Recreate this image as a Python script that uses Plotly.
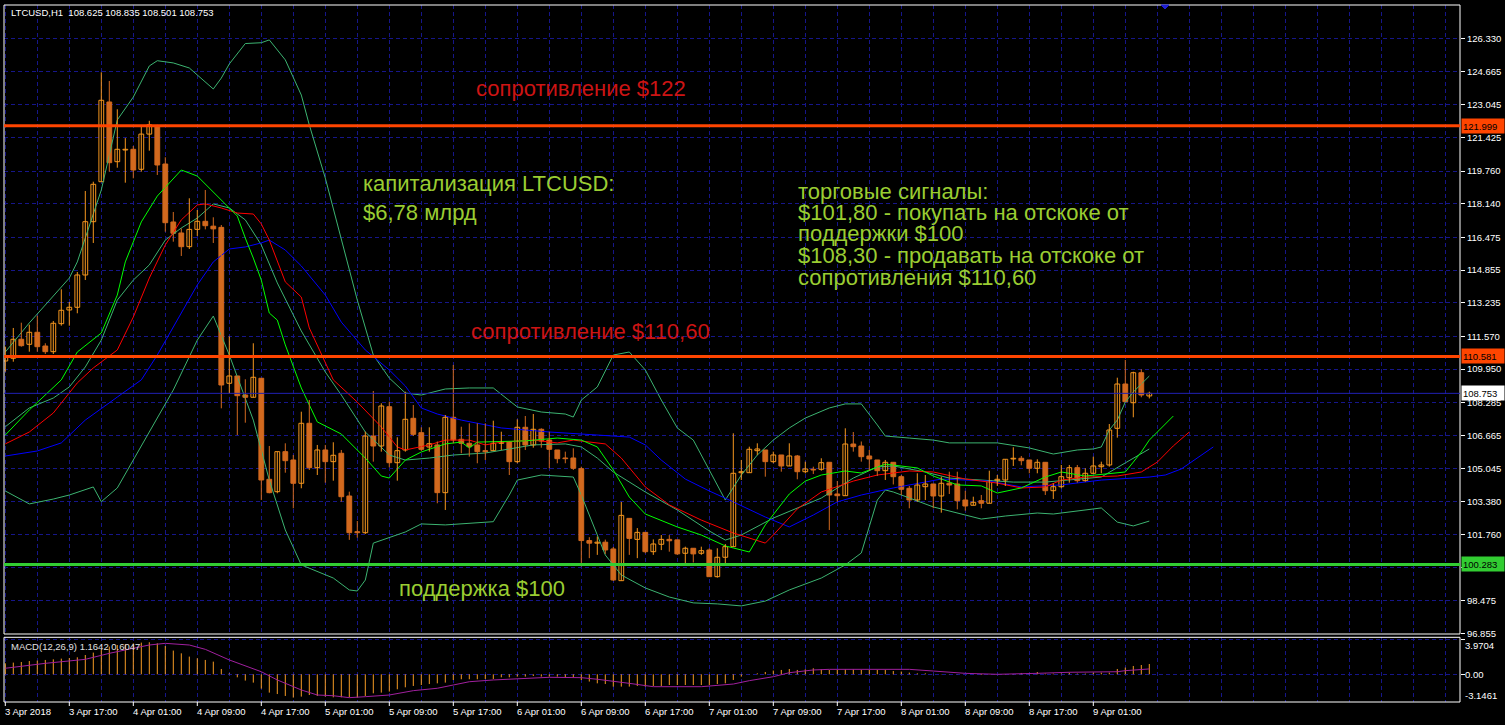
import plotly.graph_objects as go

# ---------------- data: LTCUSD H1, 3 Apr 09:00 .. 9 Apr 08:00 ----------------
OPEN = [110.355, 110.489, 111.430, 111.182, 111.776, 111.097, 110.816, 112.202, 112.880, 113.014,
        114.613, 117.251, 119.231, 123.177, 120.221, 120.800, 120.835, 119.845, 121.587, 121.964,
        120.107, 117.236, 116.692, 116.014, 116.870, 117.270, 117.030, 116.970, 109.252, 109.613,
        108.673, 108.559, 109.500, 104.499, 103.886, 105.866, 105.455, 104.301, 107.271, 105.073,
        105.950, 105.371, 105.787, 103.672, 101.905, 101.855, 106.641, 106.147, 108.092, 105.320,
        105.950, 107.518, 106.805, 106.097, 106.198, 103.837, 107.568, 106.479, 106.280, 106.198,
        105.915, 105.915, 106.280, 106.370, 105.371, 107.073, 106.198, 106.974, 106.444, 105.950,
        105.554, 105.554, 105.024, 101.465, 101.336, 101.385, 101.050, 99.480, 102.564, 101.524,
        101.871, 100.915, 101.281, 101.524, 101.500, 100.836, 101.084, 100.836, 100.999, 99.678,
        100.638, 101.163, 104.825, 104.825, 105.915, 105.950, 105.371, 105.702, 105.158, 105.653,
        104.875, 104.994, 104.994, 105.340, 103.771, 103.687, 106.246, 106.147, 105.653, 105.455,
        104.925, 105.340, 104.627, 104.053, 103.474, 104.132, 104.266, 103.672, 104.301, 104.266,
        103.474, 103.212, 103.439, 103.311, 104.430, 104.464, 105.504, 105.539, 105.455, 105.044,
        105.340, 103.934, 104.132, 104.578, 105.073, 104.430, 104.796, 105.123, 105.207, 107.023,
        109.216, 108.290, 109.775, 108.625]
HIGH = [111.063, 111.989, 112.251, 112.153, 112.598, 111.232, 112.336, 113.905, 113.276, 114.762,
        118.771, 119.231, 124.647, 124.217, 122.816, 121.389, 120.998, 121.964, 122.246, 122.048,
        120.439, 117.731, 116.919, 118.410, 117.830, 118.820, 117.469, 117.087, 111.573, 109.613,
        109.450, 111.232, 109.500, 106.147, 105.866, 106.280, 105.702, 107.845, 108.424, 106.198,
        106.198, 106.331, 105.950, 103.886, 102.434, 106.854, 108.870, 108.260, 108.340, 106.577,
        108.836, 108.177, 107.073, 107.073, 106.370, 107.682, 110.158, 107.102, 107.271, 107.271,
        107.271, 107.400, 106.854, 106.370, 107.469, 107.632, 107.731, 107.023, 106.854, 105.950,
        105.866, 106.033, 105.123, 101.633, 101.663, 101.514, 101.148, 103.375, 102.564, 102.084,
        101.871, 101.524, 101.737, 101.737, 101.500, 101.163, 101.084, 101.163, 101.084, 101.084,
        101.296, 106.776, 105.455, 106.113, 106.280, 105.950, 105.866, 105.702, 106.280, 105.702,
        105.371, 105.123, 105.539, 105.340, 104.415, 107.023, 106.840, 106.370, 105.950, 105.455,
        105.455, 105.340, 104.711, 104.167, 104.796, 104.711, 104.266, 104.627, 104.875, 104.875,
        103.930, 103.637, 103.722, 104.925, 104.711, 105.489, 106.083, 105.653, 105.455, 105.489,
        105.340, 104.301, 105.207, 105.207, 105.207, 105.044, 105.618, 105.371, 107.236, 109.528,
        110.405, 109.825, 109.945, 108.835]
LOW = [109.826, 110.320, 111.063, 110.816, 110.816, 110.702, 110.702, 112.103, 112.103, 112.717,
       114.365, 116.197, 119.231, 119.726, 119.924, 119.182, 119.399, 119.726, 120.766, 119.563,
       116.755, 116.261, 115.553, 115.900, 116.543, 116.870, 116.197, 108.013, 108.757, 106.691,
       107.300, 108.559, 103.474, 103.807, 103.807, 104.825, 103.063, 104.054, 104.960, 104.711,
       104.330, 104.430, 103.390, 101.500, 101.608, 101.790, 105.371, 105.866, 105.093, 104.430,
       105.866, 106.641, 105.900, 105.866, 103.311, 102.979, 106.280, 105.787, 105.619, 105.292,
       105.455, 105.915, 105.950, 104.711, 105.292, 105.950, 106.063, 106.063, 105.044, 105.292,
       105.292, 104.960, 100.183, 100.594, 100.757, 100.806, 99.465, 99.480, 100.757, 100.594,
       100.836, 100.757, 100.994, 100.915, 100.757, 100.212, 100.380, 100.757, 99.678, 99.628,
       100.262, 101.163, 104.464, 104.825, 105.702, 104.627, 105.292, 104.875, 105.158, 104.499,
       104.796, 104.761, 104.925, 101.989, 103.390, 103.687, 105.866, 105.371, 104.925, 104.662,
       104.464, 104.242, 103.722, 103.063, 103.390, 103.474, 103.063, 102.845, 103.771, 103.013,
       102.944, 103.212, 103.063, 103.311, 104.167, 104.167, 105.158, 105.193, 104.796, 104.796,
       103.722, 103.524, 104.053, 104.330, 104.330, 104.380, 104.761, 104.796, 105.123, 106.559,
       108.340, 107.568, 108.559, 108.501]
CLOSE = [110.603, 111.430, 111.113, 111.776, 111.063, 110.816, 112.222, 112.865, 113.014, 114.613,
         117.251, 119.102, 123.261, 120.171, 120.835, 120.835, 119.810, 121.587, 122.048, 120.058,
         117.201, 116.677, 116.014, 116.870, 117.270, 117.053, 116.896, 109.167, 109.613, 108.638,
         108.559, 109.549, 104.464, 103.837, 105.866, 105.420, 104.301, 107.271, 105.073, 105.950,
         105.371, 105.688, 103.637, 101.855, 101.855, 106.641, 106.147, 108.127, 105.320, 105.915,
         107.469, 106.726, 105.984, 106.260, 103.837, 107.568, 106.444, 106.280, 106.113, 105.866,
         105.866, 106.280, 106.330, 105.371, 107.073, 106.198, 106.974, 106.395, 105.984, 105.519,
         105.519, 105.044, 101.465, 101.336, 101.385, 101.000, 99.515, 102.713, 101.574, 101.871,
         100.915, 101.296, 101.524, 101.455, 100.806, 101.084, 100.806, 100.965, 99.678, 100.638,
         101.163, 104.796, 104.875, 105.984, 105.999, 105.371, 105.702, 105.158, 105.653, 104.875,
         105.009, 104.959, 105.320, 103.722, 103.687, 106.246, 106.113, 105.619, 105.504, 104.925,
         105.340, 104.627, 104.004, 103.474, 104.216, 104.266, 103.672, 104.301, 104.216, 103.439,
         103.177, 103.360, 103.311, 104.430, 104.499, 105.489, 105.539, 105.420, 105.044, 105.340,
         103.934, 104.132, 104.627, 105.073, 104.430, 104.796, 105.158, 105.207, 106.939, 109.216,
         108.340, 109.775, 108.671, 108.753]

# Bollinger Bands (bar index, value)
BB_UP_X = [0, 3, 8, 9, 12, 14, 16, 18, 19, 21, 23, 26, 27, 28, 30, 32, 33, 35, 37, 38, 40, 42, 44, 46, 48,
           50, 52, 55, 58, 61, 64, 67, 70, 71, 72, 74, 76, 78, 80, 82, 84, 86, 88, 90, 92, 94, 96, 98,
           100, 103, 105, 107, 109, 110, 113, 116, 118, 124, 128, 130, 131, 134, 136, 137, 138, 139,
           140, 141, 143]
BB_UP = [110.80, 112.24, 114.46, 115.26, 118.82, 122.29, 123.42, 124.96, 125.22, 125.11, 124.86, 123.82,
         124.36, 125.06, 126.07, 126.11, 126.25, 125.26, 123.52, 122.04, 119.41, 116.34, 113.37, 110.65,
         109.51, 108.77, 108.67, 108.97, 109.02, 109.02, 108.08, 107.83, 107.73, 107.58, 108.42, 109.07,
         110.65, 110.80, 109.91, 108.42, 107.04, 106.44, 104.96, 103.47, 104.71, 105.70, 106.44, 107.04,
         107.53, 108.03, 108.23, 108.23, 107.19, 106.64, 106.54, 106.44, 106.30, 106.30, 106.05, 105.85,
         105.75, 105.95, 106.00, 106.10, 106.94, 107.43, 108.32, 108.82, 109.61]
BB_MID_X = [0, 3, 6, 8, 10, 12, 14, 16, 18, 20, 22, 24, 26, 28, 30, 32, 34, 37, 40, 42, 45, 48, 50, 53,
            56, 60, 66, 70, 72, 74, 76, 80, 84, 88, 90, 92, 96, 99, 102, 106, 109, 111, 115, 118, 126,
            130, 135, 137, 140, 143]
BB_MID = [107.10, 108.03, 108.52, 109.07, 110.06, 111.39, 113.37, 114.36, 115.11, 116.34, 116.94, 117.43,
          118.13, 117.93, 117.34, 116.10, 114.22, 111.84, 109.81, 108.67, 106.84, 105.70, 105.45, 105.55,
          105.70, 105.80, 106.20, 106.25, 106.10, 105.55, 104.86, 103.87, 102.98, 101.94, 101.49, 101.74,
          102.58, 103.08, 103.57, 104.56, 105.11, 105.16, 104.86, 104.56, 104.36, 104.36, 104.56, 104.61,
          105.31, 106.00]
BB_LO_X = [0, 3, 6, 8, 11, 12, 14, 17, 21, 24, 26, 28, 31, 33, 35, 37, 41, 43, 44, 45, 46, 50, 52, 55,
           61, 63, 64, 67, 71, 72, 73, 75, 77, 80, 83, 86, 89, 92, 95, 98, 102, 105, 107, 109, 110, 111,
           116, 120, 122, 125, 129, 131, 136, 137, 139, 141, 143]
BB_LO = [103.92, 103.28, 103.52, 103.72, 104.12, 103.39, 104.07, 106.15, 108.92, 111.39, 112.58, 110.65,
         107.43, 104.46, 101.99, 100.26, 99.61, 99.02, 98.97, 99.51, 101.34, 101.89, 102.29, 102.24,
         102.40, 103.72, 104.46, 104.71, 104.61, 103.72, 102.73, 100.75, 99.76, 99.12, 98.67, 98.38,
         98.33, 98.23, 98.47, 99.02, 99.61, 100.26, 100.85, 103.47, 103.97, 103.87, 103.13, 102.73,
         102.53, 102.68, 102.83, 102.78, 103.03, 103.08, 102.38, 102.19, 102.43]

# Alligator: lips (lime), teeth (red), jaw (blue), plotted with their forward shift
LIPS_X = [0, 3, 7, 9, 12, 14, 15, 17, 19, 22, 24, 26, 28, 29, 30, 31, 32, 33, 34, 35, 37, 39, 42, 45, 47,
          48, 50, 52, 55, 57, 58, 59, 65, 69, 72, 74, 76, 78, 80, 84, 87, 90, 93, 95, 98, 100, 102, 105,
          107, 110, 114, 116, 119, 122, 124, 127, 130, 132, 135, 139, 140, 141, 142, 143, 144, 145, 146]
LIPS = [106.69, 107.93, 109.42, 110.80, 111.74, 113.62, 115.26, 117.24, 118.52, 119.81, 119.51, 118.72,
        117.93, 117.53, 116.44, 115.45, 114.36, 112.73, 112.38, 111.15, 109.02, 107.34, 106.74, 105.55,
        104.66, 104.56, 105.45, 105.85, 106.25, 106.34, 106.05, 106.34, 106.40, 106.54, 106.44, 106.10,
        104.96, 103.62, 102.78, 102.14, 101.74, 101.20, 100.90, 102.24, 103.77, 104.41, 104.71, 104.91,
        104.81, 105.25, 105.06, 104.66, 104.22, 104.17, 103.82, 104.07, 104.61, 104.86, 104.66, 104.81,
        104.86, 105.35, 105.85, 106.44, 106.84, 107.23, 107.63]
TEETH_X = [0, 3, 6, 9, 11, 14, 16, 18, 20, 22, 24, 25, 27, 29, 31, 32, 33, 35, 37, 38, 41, 44, 47, 49, 50,
           53, 55, 58, 60, 62, 66, 69, 71, 75, 77, 80, 83, 87, 91, 95, 96, 99, 102, 106, 109, 113, 116,
           120, 124, 127, 130, 132, 135, 139, 142, 144, 146, 148]
TEETH = [106.25, 106.84, 107.78, 109.27, 110.01, 110.90, 112.53, 114.46, 116.10, 117.34, 118.08, 118.13,
         117.93, 117.68, 117.63, 117.14, 116.34, 114.27, 113.52, 111.99, 109.42, 108.32, 107.09, 106.10,
         105.95, 106.20, 106.44, 106.44, 106.20, 106.34, 106.44, 106.30, 106.44, 106.25, 105.55, 104.12,
         103.23, 102.48, 101.84, 101.34, 101.74, 103.03, 103.87, 104.41, 104.71, 104.91, 104.86, 104.51,
         104.31, 104.07, 104.12, 104.46, 104.61, 104.66, 104.86, 105.35, 106.15, 106.84]
JAW_X = [0, 4, 7, 10, 14, 17, 19, 22, 24, 26, 28, 30, 32, 33, 35, 37, 40, 42, 45, 48, 50, 52, 54, 57, 62,
         68, 74, 78, 80, 82, 85, 88, 91, 95, 98, 101, 104, 107, 111, 117, 123, 127, 132, 137, 143, 145,
         147, 149, 151]
JAW = [105.65, 105.90, 106.30, 107.43, 108.57, 109.42, 110.65, 112.73, 114.12, 115.26, 115.90, 116.00,
       116.20, 116.34, 115.85, 115.06, 113.62, 112.28, 110.90, 109.91, 109.12, 108.03, 107.73, 107.43,
       107.04, 106.84, 106.69, 106.59, 106.20, 105.45, 104.51, 103.92, 103.38, 102.63, 102.14, 102.73,
       103.38, 103.72, 104.07, 104.51, 104.41, 104.12, 104.22, 104.46, 104.61, 104.71, 105.01, 105.55,
       106.10]

# MACD(12,26,9): histogram per bar, signal line
MACD_HIST = [1.24, 1.32, 1.39, 1.50, 1.55, 1.62, 1.69, 1.77, 1.84, 1.92,
             2.18, 2.45, 2.82, 3.13, 3.31, 3.42, 3.50, 3.58, 3.62, 3.50,
             3.20, 2.68, 2.37, 2.00, 1.81, 1.62, 1.43, 0.60, 0.11, -0.34,
             -0.71, -0.94, -1.62, -2.07, -2.23, -2.45, -2.63, -2.52, -2.34, -2.45,
             -2.52, -2.60, -2.60, -2.60, -2.63, -2.45, -2.15, -2.07, -1.95, -1.69,
             -1.47, -1.32, -1.21, -1.10, -1.02, -0.94, -0.64, -0.56, -0.56, -0.56,
             -0.53, -0.53, -0.34, -0.34, -0.26, -0.26, -0.19, -0.26, -0.26, -0.26,
             -0.34, -0.34, -0.64, -0.82, -1.02, -1.10, -1.39, -1.39, -1.39, -1.32,
             -1.39, -1.32, -1.32, -1.21, -1.21, -1.21, -1.21, -1.21, -1.21, -1.10,
             -1.02, -0.64, -0.26, 0.02, 0.11, 0.26, 0.42, 0.49, 0.60, 0.49,
             0.56, 0.68, 0.56, 0.49, 0.49, 0.56, 0.56, 0.49, 0.49, 0.49,
             0.49, 0.37, 0.31, 0.19, 0.11, 0.11, 0.03, 0.03, 0.02, 0.02,
             0.01, 0.01, -0.08, 0.01, 0.02, 0.03, 0.04, 0.15, 0.15, 0.26,
             0.08, 0.08, 0.08, 0.19, 0.08, 0.08, 0.19, 0.19, 0.19, 0.60,
             0.76, 0.94, 1.05, 1.1642]
SIG_X = [0, 5, 10, 13, 16, 18, 20, 23, 25, 28, 32, 34, 37, 39, 41, 43, 45, 48, 51, 54, 56, 58, 61, 66, 68,
         72, 74, 78, 81, 87, 91, 93, 96, 98, 101, 103, 113, 116, 120, 124, 126, 129, 133, 139, 140, 142, 143]
SIG = [0.68, 1.24, 1.69, 2.37, 2.94, 3.31, 3.50, 3.31, 2.82, 1.62, 0.29, -0.64, -1.77, -2.34, -2.42, -2.64,
       -2.53, -2.34, -1.85, -1.58, -1.21, -0.84, -0.64, -0.45, -0.34, -0.38, -0.56, -1.02, -1.40, -1.40,
       -1.10, -0.72, -0.27, 0.18, 0.49, 0.56, 0.56, 0.37, 0.11, 0.0, 0.07, 0.11, 0.23, 0.29, 0.41, 0.55,
       0.6047]

Y_TICKS = [126.330, 124.665, 123.045, 121.425, 119.760, 118.140, 116.475, 114.855, 113.235, 111.570,
           109.950, 108.285, 106.665, 105.045, 103.380, 101.760, 100.140, 98.475, 96.855]
TIME_POS = [0, 8, 16, 24, 32, 40, 48, 56, 64, 72, 80, 88, 96, 104, 112, 120, 128, 136]
TIME_LABELS = ["3 Apr 2018", "3 Apr 17:00", "4 Apr 01:00", "4 Apr 09:00", "4 Apr 17:00", "5 Apr 01:00",
               "5 Apr 09:00", "5 Apr 17:00", "6 Apr 01:00", "6 Apr 09:00", "6 Apr 17:00", "7 Apr 01:00",
               "7 Apr 09:00", "7 Apr 17:00", "8 Apr 01:00", "8 Apr 09:00", "8 Apr 17:00", "9 Apr 01:00"]

RESIST_HI = 121.999
RESIST_LO = 110.581
SUPPORT = 100.283
BID = 108.753

# ---------------- geometry / styles ----------------
W, H = 1505, 725
ML, MR, MT, MB = 4, 45, 5, 23
PW, PH = W - ML - MR, H - MT - MB


def px(x):
    return (x - ML) / PW


def py(y):
    return (H - MB - y) / PH


BULL = "#f5961e"
BEAR = "#d2691e"
GRID = "#16168a"
BB_C = "#3cb371"
FONT = "Liberation Sans"
AX_FONT = dict(family=FONT, size=9.5, color="white")

x0 = (ML - 5.3) / 8.0
XR = [x0, x0 + PW / 8.0]
Y_TOP = 127.978
Y_BOT = 96.84
MACD_TOP, MACD_BOT = 4.181, -3.13

fig = go.Figure()

n = len(CLOSE)
bull = [i for i in range(n) if CLOSE[i] >= OPEN[i]]
bear = [i for i in range(n) if CLOSE[i] < OPEN[i]]


def wicks(idx):
    xs, ys = [], []
    for i in idx:
        xs += [i, i, None]
        ys += [LOW[i], HIGH[i], None]
    return xs, ys


# indicator lines
for xs, ys, col in [(BB_UP_X, BB_UP, BB_C), (BB_MID_X, BB_MID, BB_C), (BB_LO_X, BB_LO, BB_C),
                    (JAW_X, JAW, "#0000ff"), (TEETH_X, TEETH, "#ff0000"), (LIPS_X, LIPS, "#00ff00")]:
    fig.add_trace(go.Scatter(x=xs, y=ys, mode="lines", line=dict(color=col, width=1),
                             hoverinfo="skip", showlegend=False, xaxis="x", yaxis="y"))

# candle wicks then bodies
for idx, col in [(bull, BULL), (bear, BEAR)]:
    wx, wy = wicks(idx)
    fig.add_trace(go.Scatter(x=wx, y=wy, mode="lines", line=dict(color=col, width=1),
                             hoverinfo="skip", showlegend=False, xaxis="x", yaxis="y"))

for idx, fill, col in [(bull, "black", BULL), (bear, BEAR, BEAR)]:
    fig.add_trace(go.Bar(
        x=idx,
        y=[max(abs(CLOSE[i] - OPEN[i]), 0.03) for i in idx],
        base=[min(OPEN[i], CLOSE[i]) for i in idx],
        width=0.6,
        marker=dict(color=fill, line=dict(color=col, width=1)),
        hoverinfo="skip", showlegend=False, xaxis="x", yaxis="y"))

# MACD histogram
hx, hy = [], []
for i, v in enumerate(MACD_HIST):
    hx += [i, i, None]
    hy += [0, v, None]
fig.add_trace(go.Scatter(x=hx, y=hy, mode="lines", line=dict(color="#f59a23", width=1),
                         hoverinfo="skip", showlegend=False, xaxis="x2", yaxis="y2"))
fig.add_trace(go.Scatter(x=SIG_X, y=SIG, mode="lines", line=dict(color="#a0209e", width=1),
                         hoverinfo="skip", showlegend=False, xaxis="x2", yaxis="y2"))

grid_x = list(range(0, 184, 4))
common_x = dict(range=XR, tickmode="array", tickvals=grid_x, showticklabels=False, ticks="",
                showgrid=True, gridcolor=GRID, gridwidth=1, griddash="4px,3px",
                zeroline=False, showline=False, fixedrange=True)

fig.update_layout(
    width=W, height=H, autosize=False,
    margin=dict(l=ML, r=MR, t=MT, b=MB),
    paper_bgcolor="black", plot_bgcolor="black",
    barmode="overlay", bargap=0, showlegend=False,
    xaxis=dict(anchor="y", domain=[0, 1], **common_x),
    xaxis2=dict(anchor="y2", domain=[0, 1], **common_x),
    yaxis=dict(domain=[py(634), 1], range=[Y_BOT, Y_TOP], side="right", anchor="x",
               tickmode="array", tickvals=Y_TICKS, ticktext=[f"{v:.3f}" for v in Y_TICKS],
               ticks="outside", ticklen=4, tickcolor="white", tickfont=AX_FONT,
               showgrid=True, gridcolor=GRID, gridwidth=1, griddash="4px,3px",
               zeroline=False, showline=False),
    yaxis2=dict(domain=[0, py(637.3)], range=[MACD_BOT, MACD_TOP], side="right", anchor="x2",
                tickmode="array", tickvals=[3.9704, 0], showticklabels=False,
                ticks="outside", ticklen=4, tickcolor="white",
                showgrid=True, gridcolor=GRID, gridwidth=1, griddash="4px,3px",
                zeroline=False, showline=False),
)

shapes = []
# panel frames
shapes.append(dict(type="rect", xref="paper", yref="paper", x0=0, x1=1, y0=py(634), y1=1,
                   line=dict(color="white", width=1), layer="above"))
shapes.append(dict(type="rect", xref="paper", yref="paper", x0=0, x1=1, y0=0, y1=py(637.3),
                   line=dict(color="white", width=1), layer="above"))
# chart shift marker at the top edge
shapes.append(dict(type="path", xref="paper", yref="paper",
                   path=f"M {px(1161)} {py(5)} L {px(1169)} {py(5)} L {px(1165)} {py(9)} Z",
                   fillcolor="#1e1ed2", line=dict(color="#1e1ed2", width=1), layer="above"))
# level lines
shapes.append(dict(type="line", xref="paper", yref="y", x0=0, x1=1, y0=BID, y1=BID,
                   line=dict(color="#2020b4", width=1), layer="above"))
for lvl, col in [(RESIST_HI, "#ff4500"), (RESIST_LO, "#ff4500"), (SUPPORT, "#32cd32")]:
    shapes.append(dict(type="line", xref="paper", yref="y", x0=0, x1=1, y0=lvl, y1=lvl,
                       line=dict(color=col, width=3), layer="above"))
# time axis tick marks
for p in TIME_POS:
    shapes.append(dict(type="line", xref="x2", yref="paper", x0=p, x1=p, y0=py(702), y1=py(706),
                       line=dict(color="white", width=1)))
fig.update_layout(shapes=shapes)

ann = []
# time labels
for p, t in zip(TIME_POS, TIME_LABELS):
    ann.append(dict(x=p, xref="x2", y=py(711), yref="paper", text=t, showarrow=False,
                    xanchor="left", yanchor="middle", xshift=-2, font=AX_FONT))
# price tags on the right scale
for lvl, bg in [(RESIST_HI, "#ff4500"), (RESIST_LO, "#ff4500"), (BID, "white"), (SUPPORT, "#32cd32")]:
    ann.append(dict(x=1, xref="paper", y=lvl, yref="y", text=f"{lvl:.3f}", showarrow=False,
                    xanchor="left", yanchor="middle", xshift=1, bgcolor=bg, borderpad=1,
                    width=40, height=12, align="left",
                    font=dict(family=FONT, size=9.5, color="black")))
# MACD scale labels
for txt, yy in [("3.9704", 645), ("0.00", 674.3), ("-3.1461", 695)]:
    ann.append(dict(x=px(1463), xref="paper", y=py(yy), yref="paper", text=txt, showarrow=False,
                    xanchor="left", yanchor="middle", font=AX_FONT))
# headers
ann.append(dict(x=px(9), xref="paper", y=py(13), yref="paper",
                text="LTCUSD,H1  108.625 108.835 108.501 108.753", showarrow=False,
                xanchor="left", yanchor="middle", font=AX_FONT))
ann.append(dict(x=px(9), xref="paper", y=py(646), yref="paper",
                text="MACD(12,26,9) 1.1642 0.6047", showarrow=False,
                xanchor="left", yanchor="middle", font=dict(family=FONT, size=9.5, color="#e0e0e0")))

RED_T = "#cc1414"
GREEN_T = "#9acd32"
BIG = 22


def label(x, y, text, color):
    ann.append(dict(x=px(x), xref="paper", y=py(y), yref="paper", text=text, showarrow=False,
                    xanchor="left", yanchor="middle", font=dict(family=FONT, size=BIG, color=color)))


label(474, 88, "сопротивление $122", RED_T)
label(469, 331, "сопротивление $110,60", RED_T)
label(397, 588, "поддержка $100", GREEN_T)
label(361, 183, "капитализация LTCUSD:", GREEN_T)
label(361, 212, "$6,78 млрд", GREEN_T)
right_block = ["торговые сигналы:", "$101,80 - покупать на отскоке от", "поддержки $100",
               "$108,30 - продавать на отскоке от", "сопротивления $110,60"]
for k, t in enumerate(right_block):
    label(796, 191 + 21.5 * k, t, GREEN_T)

fig.update_layout(annotations=ann)

fig.write_html("out.html", include_plotlyjs=True, full_html=True,
               config={"displayModeBar": False, "staticPlot": True})
